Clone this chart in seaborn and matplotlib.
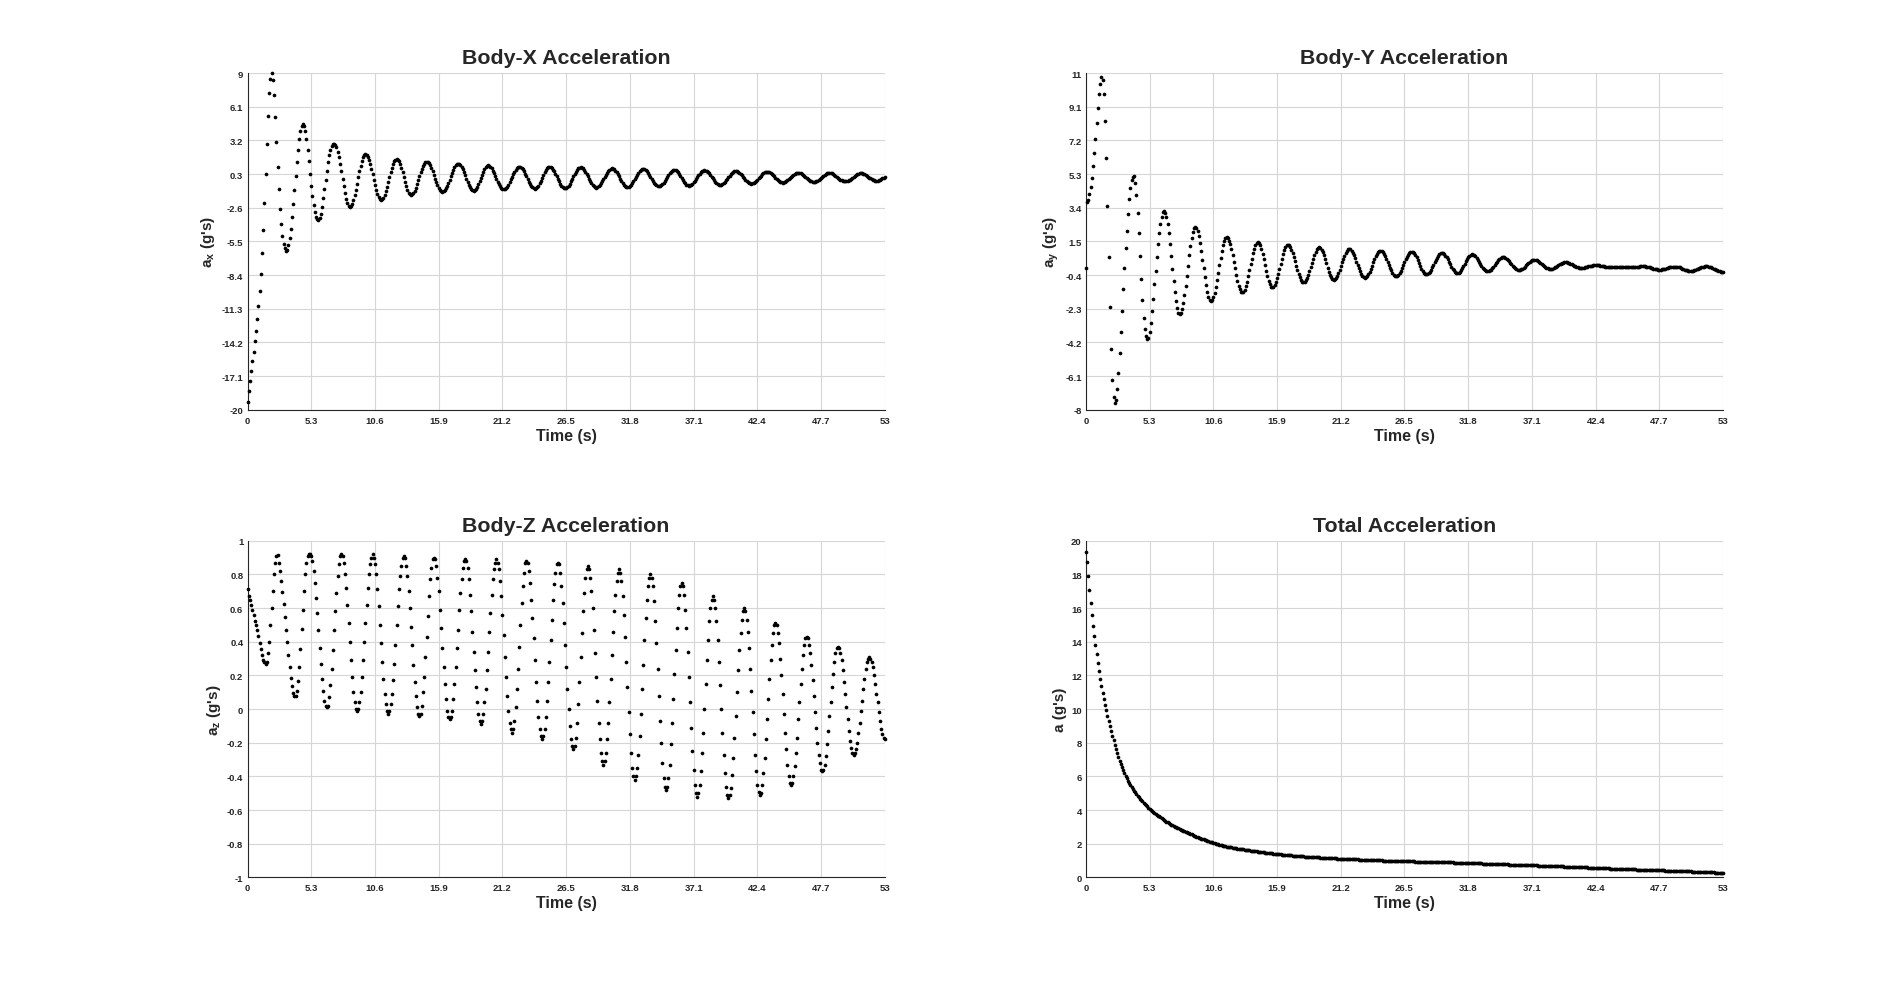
import numpy as np
import pandas as pd
import matplotlib
matplotlib.use("Agg")
import matplotlib.pyplot as plt
import seaborn as sns

# Samples are 0.1 s apart, 0 .. 53 s
SAMPLE_DT = 0.1

# Body-X acceleration (g's), one value per sample
body_x = [
    -19.3, -18.4, -17.5, -16.7, -15.8, -15.0, -14.1, -13.2, -12.2, -11.1,
    -9.8, -8.3, -6.5, -4.5, -2.2, 0.3, 2.9, 5.3, 7.3, 8.5,
    9.0, 8.4, 7.1, 5.2, 3.1, 0.9, -1.0, -2.7, -4.0, -5.0,
    -5.7, -6.1, -6.3, -6.2, -5.8, -5.2, -4.4, -3.4, -2.3, -1.1,
    0.1, 1.3, 2.4, 3.3, 4.0, 4.4, 4.6, 4.4, 4.0, 3.3,
    2.4, 1.4, 0.3, -0.7, -1.6, -2.4, -3.0, -3.4, -3.6, -3.65,
    -3.5, -3.1, -2.5, -1.8, -1.0, -0.2, 0.6, 1.3, 1.9, 2.4,
    2.7, 2.85, 2.9,
    2.82, 2.59, 2.22, 1.73, 1.16, 0.52, -0.12, -0.76, -1.33, -1.82, -2.19, -2.42, -2.5,
    -2.43, -2.24, -1.93, -1.53, -1.05, -0.52, 0.02, 0.55, 1.03, 1.43, 1.74, 1.93, 2.0,
    1.94, 1.77, 1.51, 1.15, 0.73, 0.27, -0.2, -0.66, -1.08, -1.43, -1.7, -1.87, -1.93,
    -1.88, -1.73, -1.49, -1.17, -0.79, -0.38, 0.05, 0.46, 0.84, 1.16, 1.4, 1.55, 1.6,
    1.55, 1.39, 1.15, 0.83, 0.45, 0.05, -0.35, -0.73, -1.05, -1.29, -1.45, -1.5,
    -1.46, -1.34, -1.14, -0.88, -0.57, -0.24, 0.11, 0.44, 0.75, 1.01, 1.2, 1.33, 1.37,
    1.33, 1.22, 1.04, 0.81, 0.53, 0.22, -0.09, -0.4, -0.68, -0.91, -1.09, -1.2, -1.24,
    -1.2, -1.1, -0.93, -0.71, -0.45, -0.17, 0.13, 0.41, 0.67, 0.89, 1.06, 1.16, 1.2,
    1.17, 1.07, 0.91, 0.7, 0.45, 0.18, -0.1, -0.37, -0.62, -0.83, -0.99, -1.09, -1.12,
    -1.08, -0.98, -0.8, -0.58, -0.32, -0.04, 0.25, 0.51, 0.73, 0.9, 1.01, 1.05,
    1.02, 0.93, 0.79, 0.6, 0.38, 0.13, -0.11, -0.36, -0.58, -0.77, -0.91, -1.0, -1.03,
    -1.0, -0.92, -0.78, -0.6, -0.4, -0.16, 0.07, 0.31, 0.51, 0.69, 0.83, 0.91, 0.94,
    0.91, 0.83, 0.7, 0.53, 0.33, 0.1, -0.12, -0.35, -0.55, -0.72, -0.85, -0.93, -0.96,
    -0.93, -0.83, -0.69, -0.49, -0.26, -0.02, 0.22, 0.45, 0.64, 0.79, 0.89, 0.92,
    0.89, 0.81, 0.69, 0.52, 0.33, 0.11, -0.11, -0.33, -0.52, -0.69, -0.81, -0.89, -0.92,
    -0.89, -0.82, -0.69, -0.53, -0.34, -0.13, 0.09, 0.3, 0.49, 0.65, 0.78, 0.85, 0.88,
    0.85, 0.78, 0.66, 0.5, 0.32, 0.11, -0.09, -0.3, -0.48, -0.64, -0.76, -0.83, -0.86,
    -0.84, -0.77, -0.65, -0.5, -0.33, -0.13, 0.06, 0.26, 0.43, 0.58, 0.69, 0.77, 0.79,
    0.77, 0.7, 0.59, 0.45, 0.28, 0.09, -0.1, -0.29, -0.46, -0.6, -0.71, -0.78, -0.8,
    -0.78, -0.71, -0.61, -0.47, -0.31, -0.13, 0.06, 0.24, 0.4, 0.54, 0.64, 0.71, 0.73,
    0.71, 0.64, 0.54, 0.41, 0.25, 0.07, -0.1, -0.28, -0.44, -0.57, -0.67, -0.74, -0.76,
    -0.74, -0.68, -0.58, -0.45, -0.3, -0.14, 0.04, 0.2, 0.35, 0.48, 0.58, 0.64, 0.66,
    0.64, 0.57, 0.46, 0.32, 0.16, -0.02, -0.2, -0.36, -0.5, -0.61, -0.68, -0.7,
    -0.68, -0.62, -0.53, -0.42, -0.27, -0.12, 0.04, 0.19, 0.33, 0.45, 0.54, 0.6, 0.62,
    0.6, 0.55, 0.46, 0.35, 0.22, 0.07, -0.07, -0.22, -0.35, -0.46, -0.55, -0.6, -0.62,
    -0.6, -0.55, -0.47, -0.37, -0.25, -0.11, 0.03, 0.17, 0.29, 0.39, 0.47, 0.52, 0.54,
    0.52, 0.48, 0.41, 0.31, 0.2, 0.07, -0.05, -0.18, -0.29, -0.39, -0.46, -0.5, -0.52,
    -0.51, -0.46, -0.39, -0.3, -0.19, -0.07, 0.05, 0.17, 0.28, 0.37, 0.44, 0.49, 0.5,
    0.49, 0.45, 0.38, 0.3, 0.2, 0.09, -0.02, -0.13, -0.23, -0.31, -0.38, -0.42, -0.43,
    -0.42, -0.38, -0.33, -0.25, -0.16, -0.07, 0.04, 0.13, 0.22, 0.3, 0.35, 0.39, 0.4,
    0.39, 0.36, 0.3, 0.23, 0.15, 0.06, -0.03, -0.12, -0.2, -0.27, -0.33, -0.36, -0.37,
    -0.36, -0.33, -0.27, -0.21, -0.13, -0.04, 0.06, 0.14, 0.23, 0.29, 0.35, 0.38, 0.39,
    0.38, 0.35, 0.3, 0.23, 0.15, 0.07, -0.02, -0.1, -0.18, -0.25, -0.3, -0.33, -0.34,
    -0.33, -0.3, -0.25, -0.19, -0.11, -0.03, 0.05, 0.13, 0.21, 0.27, 0.32, 0.35, 0.36,
    0.35, 0.32, 0.28, 0.22, 0.15, 0.08, 0.0, -0.07, -0.14, -0.2, -0.24, -0.27, -0.28,
    -0.27, -0.25, -0.2, -0.15, -0.08, -0.01, 0.06,
]

# Body-Y acceleration (g's)
body_y = [
    0.0, 3.7, 3.85, 4.15, 4.55, 5.1, 5.75, 6.5, 7.3, 8.2,
    9.05, 9.8, 10.4, 10.75, 10.6, 9.8, 8.3, 6.2, 3.5, 0.6,
    -2.2, -4.55, -6.3, -7.3, -7.6, -7.45, -6.85, -5.9, -4.8, -3.6,
    -2.4, -1.2, 0.0, 1.1, 2.1, 3.05, 3.9, 4.5, 4.95, 5.15,
    5.2, 4.8, 4.1, 3.1, 2.0, 0.65, -0.6, -1.8, -2.8, -3.45,
    -3.85, -4.0, -3.95, -3.6, -3.1, -2.4, -1.75, -0.9, -0.15, 0.6,
    1.35, 1.95, 2.5, 2.9, 3.15, 3.2,
    3.12, 2.87, 2.47, 1.95, 1.33, 0.65, -0.05, -0.73, -1.35, -1.87, -2.27, -2.52, -2.6,
    -2.53, -2.32, -1.98, -1.54, -1.02, -0.44, 0.14, 0.72, 1.24, 1.68, 2.02, 2.23, 2.3,
    2.24, 2.06, 1.78, 1.4, 0.96, 0.47, -0.02, -0.51, -0.95, -1.33, -1.61, -1.79, -1.85,
    -1.8, -1.64, -1.4, -1.08, -0.7, -0.28, 0.16, 0.58, 0.96, 1.28, 1.52, 1.68, 1.73,
    1.69, 1.55, 1.34, 1.06, 0.73, 0.36, -0.01, -0.38, -0.71, -0.99, -1.2, -1.34, -1.38,
    -1.34, -1.22, -1.03, -0.77, -0.47, -0.14, 0.2, 0.53, 0.83, 1.08, 1.28, 1.4, 1.44,
    1.4, 1.27, 1.07, 0.81, 0.5, 0.17, -0.16, -0.47, -0.73, -0.93, -1.06, -1.1,
    -1.07, -0.96, -0.8, -0.58, -0.32, -0.04, 0.25, 0.53, 0.79, 1.01, 1.17, 1.28, 1.31,
    1.28, 1.19, 1.04, 0.85, 0.63, 0.38, 0.13, -0.12, -0.34, -0.53, -0.68, -0.77, -0.8,
    -0.77, -0.69, -0.55, -0.38, -0.17, 0.06, 0.3, 0.53, 0.74, 0.91, 1.05, 1.13, 1.16,
    1.13, 1.04, 0.9, 0.71, 0.49, 0.26, 0.02, -0.2, -0.39, -0.53, -0.62, -0.65,
    -0.63, -0.55, -0.43, -0.28, -0.1, 0.11, 0.31, 0.52, 0.7, 0.85, 0.97, 1.05, 1.07,
    1.05, 0.98, 0.87, 0.72, 0.55, 0.36, 0.17, -0.02, -0.19, -0.34, -0.45, -0.52, -0.54,
    -0.52, -0.45, -0.35, -0.21, -0.05, 0.13, 0.31, 0.49, 0.65, 0.79, 0.89, 0.96, 0.98,
    0.96, 0.9, 0.8, 0.67, 0.52, 0.35, 0.18, 0.01, -0.14, -0.27, -0.37, -0.43, -0.45,
    -0.43, -0.37, -0.28, -0.15, -0.01, 0.15, 0.32, 0.48, 0.62, 0.75, 0.84, 0.9, 0.92,
    0.9, 0.84, 0.73, 0.6, 0.45, 0.29, 0.12, -0.03, -0.16, -0.27, -0.33, -0.35,
    -0.33, -0.28, -0.2, -0.09, 0.03, 0.17, 0.32, 0.46, 0.58, 0.69, 0.77, 0.82, 0.84,
    0.82, 0.78, 0.7, 0.6, 0.48, 0.35, 0.21, 0.08, -0.04, -0.14, -0.22, -0.26, -0.28,
    -0.26, -0.21, -0.13, -0.02, 0.11, 0.25, 0.38, 0.51, 0.62, 0.7, 0.75, 0.77,
    0.76, 0.72, 0.65, 0.56, 0.46, 0.35, 0.23, 0.12, 0.02, -0.07, -0.14, -0.18, -0.19,
    -0.18, -0.14, -0.09, -0.02, 0.07, 0.17, 0.26, 0.36, 0.45, 0.52, 0.57, 0.61, 0.62,
    0.61, 0.58, 0.53, 0.46, 0.39, 0.3, 0.21, 0.13, 0.05, -0.02, -0.07, -0.1, -0.11,
    -0.1, -0.08, -0.04, 0.02, 0.08, 0.15, 0.21, 0.28, 0.34, 0.4, 0.44, 0.46, 0.47,
    0.46, 0.44, 0.4, 0.36, 0.3, 0.24, 0.18, 0.12, 0.06, 0.02, -0.02, -0.04, -0.05,
    -0.05, -0.03, 0.0, 0.03, 0.07, 0.11, 0.16, 0.2, 0.24, 0.27, 0.3, 0.31, 0.32,
    0.32, 0.3, 0.28, 0.25, 0.22, 0.18, 0.14, 0.1, 0.07, 0.04, 0.02, 0.0, 0.0,
    0.0, 0.01, 0.03, 0.04, 0.06, 0.09, 0.11, 0.13, 0.14, 0.16, 0.17, 0.17,
    0.17, 0.16, 0.15, 0.14, 0.12, 0.11, 0.09, 0.08, 0.06, 0.05, 0.04, 0.03, 0.03,
    0.03, 0.03, 0.03, 0.03, 0.03, 0.04, 0.04, 0.04, 0.04, 0.05, 0.05, 0.05, 0.05,
    0.05, 0.05, 0.05, 0.04, 0.04, 0.04,
    0.04, 0.05, 0.06, 0.08, 0.09, 0.1, 0.1,
    0.1, 0.09, 0.08, 0.06, 0.05, 0.03, 0.01, -0.02, -0.04, -0.05, -0.07, -0.08, -0.09, -0.09,
    -0.09, -0.08, -0.07, -0.05, -0.04, -0.02, 0.01, 0.03, 0.04, 0.06, 0.07, 0.08, 0.08,
    0.08, 0.07, 0.05, 0.03, 0.0, -0.03, -0.06, -0.09, -0.12, -0.14, -0.16, -0.17, -0.17,
    -0.17, -0.15, -0.14, -0.11, -0.08, -0.05, -0.02, 0.01, 0.04, 0.07, 0.08, 0.1, 0.1,
    0.1, 0.08, 0.06, 0.04, 0.0, -0.03, -0.07, -0.1, -0.14, -0.16, -0.18, -0.2, -0.2,
    -0.2,
]

# Body-Z acceleration (g's)
body_z = [
    0.71, 0.67, 0.645, 0.62, 0.59, 0.56, 0.525, 0.5, 0.47, 0.435,
    0.39, 0.355, 0.32, 0.29, 0.28, 0.27, 0.28, 0.33, 0.4, 0.5,
    0.6, 0.7, 0.8, 0.865, 0.91, 0.913,
    0.865, 0.82, 0.76, 0.695, 0.625, 0.545, 0.47, 0.4, 0.32, 0.25,
    0.185, 0.135, 0.095, 0.075, 0.08, 0.105, 0.165, 0.25, 0.355, 0.475,
    0.59, 0.7, 0.8, 0.87, 0.91, 0.92, 0.923,
    0.91, 0.88, 0.82, 0.75, 0.66, 0.57, 0.47, 0.36, 0.27, 0.18, 0.11, 0.05, 0.02, 0.01,
    0.02, 0.07, 0.14, 0.24, 0.35, 0.47, 0.58, 0.69, 0.79, 0.86, 0.91, 0.92,
    0.91, 0.87, 0.8, 0.72, 0.62, 0.51, 0.4, 0.29, 0.19, 0.1, 0.04, 0.0, -0.01,
    0.0, 0.04, 0.1, 0.19, 0.29, 0.4, 0.51, 0.62, 0.72, 0.8, 0.86, 0.9, 0.92,
    0.9, 0.86, 0.8, 0.71, 0.61, 0.5, 0.39, 0.28, 0.18, 0.09, 0.03, -0.01, -0.03,
    -0.01, 0.03, 0.09, 0.17, 0.27, 0.38, 0.5, 0.61, 0.71, 0.79, 0.85, 0.9, 0.91,
    0.9, 0.85, 0.79, 0.7, 0.6, 0.49, 0.38, 0.26, 0.16, 0.08, 0.01, -0.03, -0.04,
    -0.03, 0.02, 0.1, 0.19, 0.31, 0.43, 0.55, 0.67, 0.77, 0.84, 0.89, 0.9,
    0.89, 0.85, 0.78, 0.7, 0.59, 0.48, 0.36, 0.25, 0.15, 0.06, -0.01, -0.05, -0.06,
    -0.05, -0.01, 0.06, 0.15, 0.25, 0.36, 0.47, 0.59, 0.69, 0.77, 0.84, 0.88, 0.89,
    0.88, 0.84, 0.77, 0.68, 0.58, 0.46, 0.34, 0.23, 0.13, 0.04, -0.03, -0.07, -0.09,
    -0.07, -0.03, 0.04, 0.12, 0.23, 0.34, 0.46, 0.57, 0.68, 0.77, 0.83, 0.87, 0.89,
    0.87, 0.83, 0.76, 0.67, 0.56, 0.44, 0.31, 0.19, 0.08, -0.01, -0.08, -0.12, -0.14,
    -0.12, -0.07, 0.01, 0.12, 0.24, 0.37, 0.5, 0.63, 0.73, 0.81, 0.87, 0.88,
    0.87, 0.82, 0.75, 0.65, 0.54, 0.42, 0.29, 0.16, 0.05, -0.05, -0.12, -0.16, -0.18,
    -0.16, -0.12, -0.05, 0.05, 0.16, 0.28, 0.41, 0.53, 0.65, 0.74, 0.81, 0.86, 0.87,
    0.86, 0.81, 0.73, 0.63, 0.51, 0.38, 0.25, 0.12, 0.0, -0.1, -0.18, -0.22, -0.24,
    -0.22, -0.17, -0.08, 0.03, 0.16, 0.31, 0.45, 0.58, 0.69, 0.78, 0.83, 0.85,
    0.83, 0.78, 0.7, 0.6, 0.47, 0.33, 0.19, 0.05, -0.08, -0.18, -0.26, -0.31, -0.33,
    -0.31, -0.26, -0.18, -0.08, 0.04, 0.18, 0.32, 0.46, 0.58, 0.68, 0.76, 0.81, 0.83,
    0.81, 0.76, 0.67, 0.56, 0.43, 0.28, 0.13, -0.02, -0.15, -0.26, -0.35, -0.4, -0.42,
    -0.4, -0.35, -0.27, -0.16, -0.03, 0.12, 0.26, 0.41, 0.54, 0.65, 0.73, 0.78, 0.8,
    0.78, 0.73, 0.64, 0.52, 0.39, 0.24, 0.08, -0.07, -0.2, -0.32, -0.41, -0.46, -0.48,
    -0.46, -0.41, -0.33, -0.21, -0.08, 0.06, 0.21, 0.35, 0.48, 0.6, 0.68, 0.73, 0.75,
    0.73, 0.68, 0.59, 0.48, 0.34, 0.19, 0.04, -0.11, -0.25, -0.36, -0.45, -0.5, -0.52,
    -0.5, -0.45, -0.37, -0.26, -0.14, 0.0, 0.15, 0.29, 0.41, 0.52, 0.6, 0.65, 0.67,
    0.65, 0.6, 0.52, 0.41, 0.28, 0.14, 0.0, -0.14, -0.27, -0.38, -0.46, -0.51, -0.53,
    -0.51, -0.47, -0.39, -0.29, -0.17, -0.04, 0.1, 0.23, 0.35, 0.45, 0.53, 0.58, 0.6,
    0.58, 0.53, 0.46, 0.36, 0.24, 0.11, -0.02, -0.15, -0.27, -0.37, -0.45, -0.49, -0.51,
    -0.5, -0.45, -0.38, -0.29, -0.18, -0.06, 0.06, 0.18, 0.29, 0.38, 0.45, 0.5, 0.51,
    0.5, 0.45, 0.39, 0.3, 0.2, 0.09, -0.03, -0.14, -0.24, -0.33, -0.4, -0.44, -0.45,
    -0.44, -0.4, -0.34, -0.26, -0.17, -0.06, 0.04, 0.15, 0.24, 0.32, 0.38, 0.42, 0.43,
    0.42, 0.38, 0.33, 0.26, 0.17, 0.08, -0.02, -0.11, -0.2, -0.27, -0.32, -0.36, -0.37,
    -0.36, -0.33, -0.28, -0.21, -0.13, -0.04, 0.04, 0.13, 0.21, 0.28, 0.33, 0.36, 0.37,
    0.36, 0.33, 0.29, 0.23, 0.16, 0.09, 0.01, -0.06, -0.13, -0.19, -0.23, -0.26, -0.27,
    -0.26, -0.24, -0.2, -0.14, -0.08, -0.01, 0.05, 0.12, 0.18, 0.24, 0.28, 0.3, 0.31,
    0.3, 0.28, 0.25, 0.2, 0.15, 0.09, 0.04, -0.02, -0.07, -0.12, -0.15, -0.17, -0.18,
]

# Total acceleration (g's)
total_accel = [
    19.3, 18.75, 17.9, 17.05, 16.3, 15.6, 14.95, 14.35, 13.8, 13.25,
    12.75, 12.25, 11.8, 11.35, 10.95, 10.6, 10.25, 9.92, 9.6, 9.28,
    8.97, 8.69, 8.41, 8.15, 7.88, 7.62, 7.38, 7.15, 6.94, 6.74,
    6.55, 6.37, 6.2, 6.04, 5.89, 5.75, 5.62, 5.49, 5.37, 5.26,
    5.15, 5.05, 4.95, 4.86, 4.77, 4.68, 4.6, 4.52, 4.44, 4.36,
    4.29, 4.22, 4.15, 4.08, 4.02, 3.96, 3.9, 3.84, 3.78, 3.72,
    3.67, 3.62, 3.56, 3.51, 3.46, 3.41, 3.36, 3.32, 3.27, 3.23,
    3.18, 3.14, 3.1, 3.06, 3.02, 2.98, 2.94, 2.91, 2.87, 2.84,
    2.8, 2.77, 2.73, 2.7, 2.67, 2.64, 2.61, 2.58, 2.55, 2.51,
    2.48, 2.45, 2.42, 2.39, 2.37, 2.34, 2.31, 2.28, 2.26, 2.23,
    2.2, 2.18, 2.15, 2.13, 2.1, 2.08, 2.05, 2.03, 2.01, 1.98,
    1.96, 1.94, 1.92, 1.9, 1.88, 1.86, 1.85, 1.83, 1.82, 1.81,
    1.79, 1.78, 1.76, 1.75, 1.74, 1.73, 1.71, 1.7, 1.69, 1.68,
    1.67, 1.66, 1.65, 1.63, 1.62, 1.61, 1.6, 1.59, 1.58, 1.57,
    1.56, 1.55, 1.54, 1.53, 1.52, 1.51, 1.51, 1.5, 1.49, 1.48,
    1.47, 1.46, 1.45, 1.44, 1.44, 1.43, 1.42, 1.41, 1.4, 1.39,
    1.39, 1.38, 1.37, 1.36, 1.36, 1.35, 1.34, 1.33, 1.33, 1.32,
    1.31, 1.31, 1.3, 1.29, 1.29, 1.28, 1.28, 1.27, 1.26, 1.26,
    1.25, 1.25, 1.24, 1.24, 1.23, 1.23, 1.22, 1.22, 1.21, 1.21,
    1.2, 1.2, 1.19, 1.19, 1.19, 1.18, 1.18, 1.17, 1.17, 1.16,
    1.16, 1.16, 1.15, 1.15, 1.14, 1.14, 1.14, 1.13, 1.13, 1.12,
    1.12, 1.12, 1.11, 1.11, 1.11, 1.1, 1.1, 1.1, 1.09, 1.09,
    1.09, 1.08, 1.08, 1.08, 1.07, 1.07, 1.07, 1.06, 1.06, 1.06,
    1.06, 1.05, 1.05, 1.05, 1.04, 1.04, 1.04, 1.03, 1.03, 1.03,
    1.02, 1.02, 1.02, 1.02, 1.01, 1.01, 1.01, 1.0, 1.0, 1.0,
    0.99, 0.99, 0.99, 0.99, 0.98, 0.98, 0.98, 0.98, 0.97, 0.97,
    0.97, 0.97, 0.96, 0.96, 0.96, 0.96, 0.96, 0.96, 0.95, 0.95,
    0.95, 0.95, 0.95, 0.95, 0.94, 0.94, 0.94, 0.94, 0.94, 0.94,
    0.93, 0.93, 0.93, 0.93, 0.93, 0.93, 0.92, 0.92, 0.92, 0.92,
    0.92, 0.91, 0.91, 0.91, 0.91, 0.91, 0.91, 0.9, 0.9, 0.9,
    0.9, 0.9, 0.89, 0.89, 0.89, 0.89, 0.88, 0.88, 0.88, 0.88,
    0.87, 0.87, 0.87, 0.87, 0.87, 0.86, 0.86, 0.86, 0.86, 0.86,
    0.85, 0.85, 0.85, 0.84, 0.84, 0.84, 0.84, 0.83, 0.83, 0.83,
    0.82, 0.82, 0.82, 0.82, 0.81, 0.81, 0.81, 0.81, 0.8, 0.8,
    0.8, 0.8, 0.79, 0.79, 0.79, 0.78, 0.78, 0.78, 0.78, 0.77,
    0.77, 0.77, 0.76, 0.76, 0.76, 0.76, 0.75, 0.75, 0.75, 0.75,
    0.74, 0.74, 0.74, 0.74, 0.73, 0.73, 0.73, 0.73, 0.72, 0.72,
    0.72, 0.72, 0.71, 0.71, 0.71, 0.71, 0.7, 0.7, 0.7, 0.69,
    0.69, 0.69, 0.69, 0.68, 0.68, 0.68, 0.67, 0.67, 0.67, 0.67,
    0.66, 0.66, 0.66, 0.66, 0.65, 0.65, 0.65, 0.65, 0.64, 0.64,
    0.64, 0.64, 0.63, 0.63, 0.63, 0.62, 0.62, 0.62, 0.61, 0.61,
    0.61, 0.61, 0.6, 0.6, 0.6, 0.59, 0.59, 0.59, 0.58, 0.58,
    0.58, 0.58, 0.57, 0.57, 0.57, 0.56, 0.56, 0.56, 0.56, 0.55,
    0.55, 0.55, 0.54, 0.54, 0.54, 0.54, 0.53, 0.53, 0.53, 0.53,
    0.52, 0.52, 0.52, 0.51, 0.51, 0.51, 0.51, 0.5, 0.5, 0.5,
    0.5, 0.49, 0.49, 0.49, 0.49, 0.48, 0.48, 0.48, 0.47, 0.47,
    0.47, 0.47, 0.46, 0.46, 0.46, 0.46, 0.45, 0.45, 0.45, 0.44,
    0.44, 0.44, 0.44, 0.43, 0.43, 0.43, 0.43, 0.43, 0.42, 0.42,
    0.42, 0.42, 0.41, 0.41, 0.41, 0.4, 0.4, 0.4, 0.4, 0.39,
    0.39, 0.39, 0.39, 0.38, 0.38, 0.38, 0.38, 0.37, 0.37, 0.37,
    0.37, 0.36, 0.36, 0.36, 0.35, 0.35, 0.35, 0.34, 0.34, 0.34,
    0.33, 0.33, 0.33, 0.32, 0.32, 0.32, 0.31, 0.31, 0.31, 0.3,
    0.3, 0.3, 0.3, 0.29, 0.29, 0.29, 0.29, 0.28, 0.28, 0.28,
    0.28,
]

# Axis ticks as printed on the chart
time_ticks = [0, 5.3, 10.6, 15.9, 21.2, 26.5, 31.8, 37.1, 42.4, 47.7, 53]
x_ticks = [-20, -17.1, -14.2, -11.3, -8.4, -5.5, -2.6, 0.3, 3.2, 6.1, 9]
y_ticks = [-8, -6.1, -4.2, -2.3, -0.4, 1.5, 3.4, 5.3, 7.2, 9.1, 11]
z_ticks = [-1, -0.8, -0.6, -0.4, -0.2, 0, 0.2, 0.4, 0.6, 0.8, 1]
total_ticks = [0, 2, 4, 6, 8, 10, 12, 14, 16, 18, 20]

titles = ["Body-X Acceleration", "Body-Y Acceleration",
          "Body-Z Acceleration", "Total Acceleration"]
ylabels = ["a$_x$ (g's)", "a$_y$ (g's)", "a$_z$ (g's)", "a (g's)"]

sns.set_style("white")
plt.rcParams["font.family"] = ["Liberation Sans", "DejaVu Sans"]
plt.rcParams["mathtext.fontset"] = "custom"
plt.rcParams["mathtext.rm"] = "Liberation Sans:bold"
plt.rcParams["mathtext.it"] = "Liberation Sans:bold"
plt.rcParams["mathtext.bf"] = "Liberation Sans:bold"


def fmt(v):
    return f"{round(v, 1):g}"


# subplot(2,2,k) positions
positions = [
    [0.13, 0.5838, 0.3347, 0.3412],
    [0.5703, 0.5838, 0.3347, 0.3412],
    [0.13, 0.11, 0.3347, 0.3412],
    [0.5703, 0.11, 0.3347, 0.3412],
]
series = [body_x, body_y, body_z, total_accel]
yticks_all = [x_ticks, y_ticks, z_ticks, total_ticks]

fig = plt.figure(figsize=(19.04, 9.87), dpi=100)
fig.patch.set_facecolor("white")

for pos, values, yticks, title, ylabel in zip(positions, series, yticks_all, titles, ylabels):
    ax = fig.add_axes(pos)
    df = pd.DataFrame({
        "time": np.arange(len(values)) * SAMPLE_DT,
        "accel": values,
    })
    sns.scatterplot(data=df, x="time", y="accel", ax=ax, color="black",
                    s=7, linewidth=0, legend=False, zorder=3, clip_on=False)

    ax.set_xlim(time_ticks[0], time_ticks[-1])
    ax.set_ylim(yticks[0], yticks[-1])
    ax.set_xticks(time_ticks)
    ax.set_xticklabels([fmt(v) for v in time_ticks], fontweight="bold")
    ax.set_yticks(yticks)
    ax.set_yticklabels([fmt(v) for v in yticks], fontweight="bold")

    ax.set_axisbelow(True)
    ax.grid(True, color="#d6d6d6", linewidth=0.8)
    for side in ["top", "right"]:
        ax.spines[side].set_visible(False)
    for side in ["left", "bottom"]:
        ax.spines[side].set_color("#262626")
        ax.spines[side].set_linewidth(0.8)
    ax.tick_params(direction="in", length=4, width=0.8, colors="#262626",
                   labelsize=6.8)
    ax.tick_params(axis="x", pad=4.3)
    ax.tick_params(axis="y", pad=3)

    ax.set_title(title, fontsize=15.4, fontweight="bold", pad=7)
    ax.set_xlabel("Time (s)", fontsize=11.5, fontweight="bold", labelpad=2)
    ax.set_ylabel(ylabel, fontsize=11, fontweight="bold", labelpad=3)

fig.savefig("out.png", dpi=100, facecolor="white")
